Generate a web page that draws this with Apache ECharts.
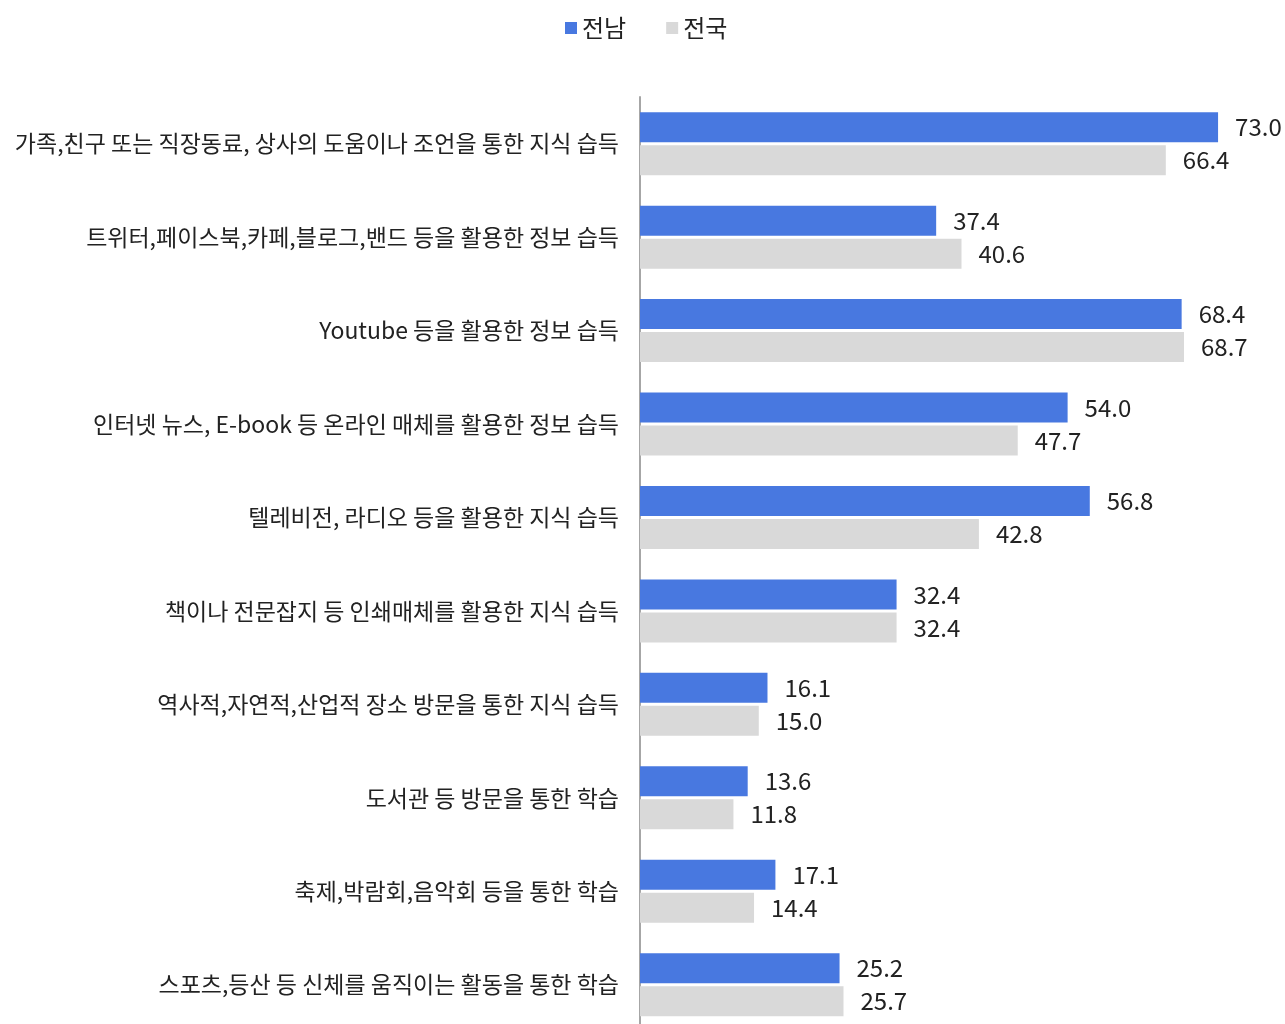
<!DOCTYPE html>
<html><head><meta charset="utf-8">
<script src="https://cdn.jsdelivr.net/npm/echarts@6/dist/echarts.min.js"></script>
<style>html,body{margin:0;padding:0;background:#fff;overflow:hidden}#c{width:1285px;height:1040px}</style>
</head><body><div id="c"></div>
<script>
const categories = [
  '가족,친구 또는 직장동료, 상사의 도움이나 조언을 통한 지식 습득',
  '트위터,페이스북,카페,블로그,밴드 등을 활용한 정보 습득',
  'Youtube 등을 활용한 정보 습득',
  '인터넷 뉴스, E-book 등 온라인 매체를 활용한 정보 습득',
  '텔레비전, 라디오 등을 활용한 지식 습득',
  '책이나 전문잡지 등 인쇄매체를 활용한 지식 습득',
  '역사적,자연적,산업적 장소 방문을 통한 지식 습득',
  '도서관 등 방문을 통한 학습',
  '축제,박람회,음악회 등을 통한 학습',
  '스포츠,등산 등 신체를 움직이는 활동을 통한 학습'
];
const jeonnam = [73.0, 37.4, 68.4, 54.0, 56.8, 32.4, 16.1, 13.6, 17.1, 25.2];
const national = [66.4, 40.6, 68.7, 47.7, 42.8, 32.4, 15.0, 11.8, 14.4, 25.7];
const seriesNames = ['전남', '전국'];

const font = '"Noto Sans CJK KR", "Noto Sans", sans-serif';
const chart = echarts.init(document.getElementById('c'), null, {renderer: 'canvas'});
const lbl = {show: true, position: 'right', distance: 17, color: '#222', fontSize: 24, fontFamily: font,
  formatter: p => p.value.toFixed(1)};
chart.setOption({
  animation: false,
  textStyle: {fontFamily: font},
  legend: {
    top: 11, left: 560, itemWidth: 12, itemHeight: 12, itemGap: 40,
    icon: 'rect',
    textStyle: {fontSize: 24, color: '#222', fontFamily: font},
    data: seriesNames
  },
  grid: {left: 640, top: 97, width: 633.5, height: 934.4, containLabel: false},
  xAxis: {type: 'value', min: 0, max: 80, show: false},
  yAxis: {
    type: 'category', inverse: true, data: categories,
    axisLine: {show: true, lineStyle: {color: '#a6a6a6', width: 2}},
    axisTick: {show: false},
    axisLabel: {fontSize: 23, color: '#222', margin: 21, fontFamily: font}
  },
  series: [
    {name: seriesNames[0], type: 'bar', data: jeonnam, barWidth: 30, barGap: '10%',
      itemStyle: {color: '#4878e0'}, label: lbl},
    {name: seriesNames[1], type: 'bar', data: national, barWidth: 30, barGap: '10%',
      itemStyle: {color: '#d9d9d9'}, label: lbl}
  ]
});
</script></body></html>
